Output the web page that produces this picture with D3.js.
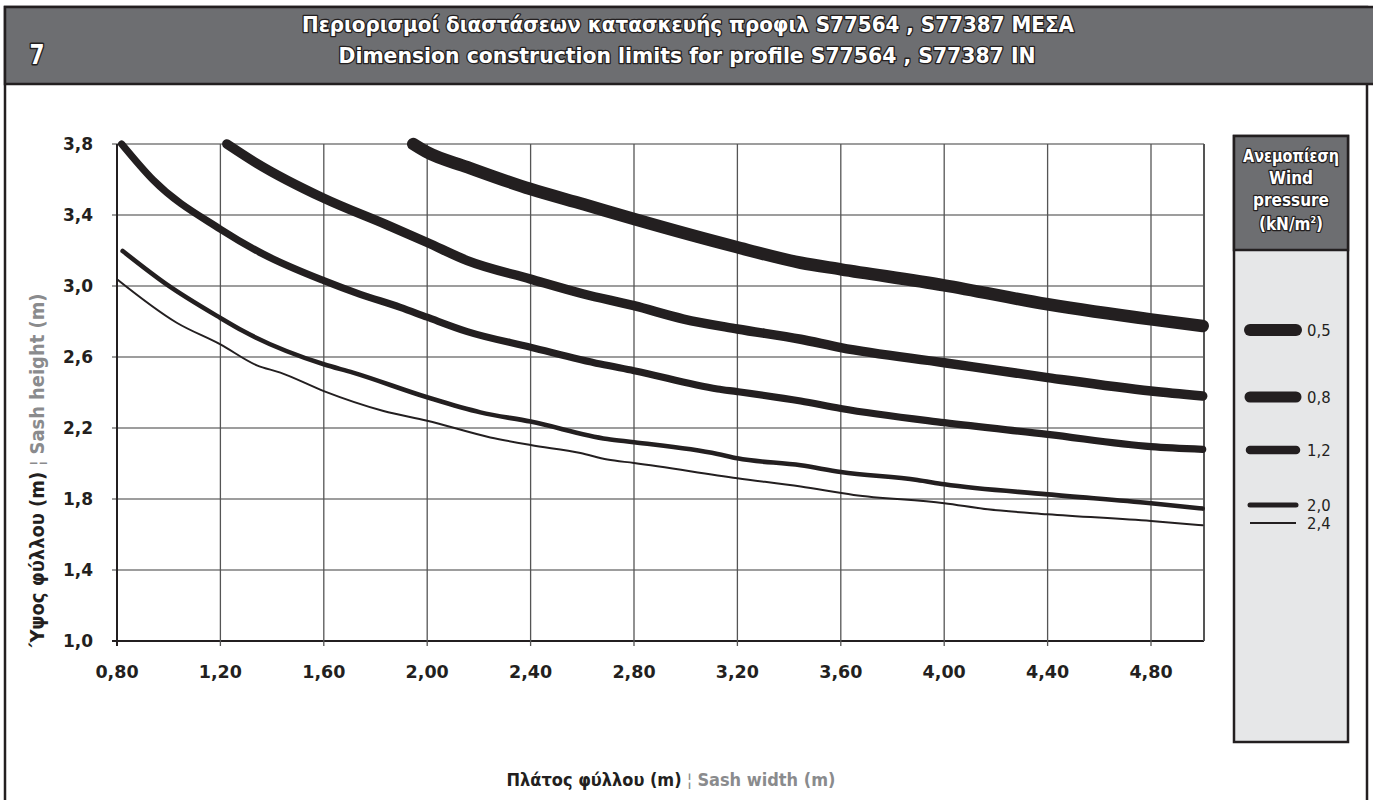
<!DOCTYPE html>
<html><head><meta charset="utf-8">
<script src="https://cdn.jsdelivr.net/npm/d3@7"></script>
<style>
html,body{margin:0;padding:0;background:#fff;}
svg{display:block;}
.cond{font-family:"Liberation Sans Narrow","DejaVu Sans Condensed","Roboto Condensed","DejaVu Sans",sans-serif;font-stretch:condensed;}
.tick{font-family:"DejaVu Sans",sans-serif;font-weight:bold;}
</style></head>
<body>
<svg id="c" width="1373" height="800"></svg>
<script>
// ---------------- DATA ----------------
const titleGr = "Περιορισμοί διαστάσεων κατασκευής προφιλ S77564 , S77387 ΜΕΣΑ";
const titleEn = "Dimension construction limits for profile S77564 , S77387 IN";
const chartNo = "7";
const xTicks = [0.8, 1.2, 1.6, 2.0, 2.4, 2.8, 3.2, 3.6, 4.0, 4.4, 4.8];
const yTicks = [1.0, 1.4, 1.8, 2.2, 2.6, 3.0, 3.4, 3.8];
const pressures = ["0,5", "0,8", "1,2", "2,0", "2,4"];
// [sash width (m), sash height (m)]
const p05 = [[1.946,3.80],[2.00,3.753],[2.155,3.67],[2.40,3.546],[2.605,3.46],[2.80,3.377],[3.20,3.218],[3.445,3.131],[3.60,3.094],[4.00,3.004],[4.40,2.897],[4.80,2.812],[5.00,2.775]];
const p08 = [[1.225,3.80],[1.341,3.691],[1.60,3.494],[1.844,3.344],[2.00,3.245],[2.155,3.143],[2.40,3.039],[2.605,2.955],[2.80,2.889],[2.992,2.814],[3.20,2.758],[3.445,2.70],[3.60,2.653],[4.00,2.568],[4.40,2.484],[4.80,2.408],[5.00,2.38]];
const p12 = [[0.818,3.80],[0.94,3.597],[1.20,3.32],[1.365,3.18],[1.60,3.03],[1.741,2.953],[1.896,2.88],[2.00,2.824],[2.155,2.743],[2.40,2.655],[2.67,2.56],[2.80,2.523],[3.123,2.42],[3.20,2.405],[3.445,2.352],[3.60,2.31],[4.00,2.23],[4.40,2.164],[4.80,2.095],[5.00,2.08]];
const p20 = [[0.822,3.197],[0.992,3.009],[1.20,2.82],[1.288,2.746],[1.60,2.559],[1.713,2.512],[2.00,2.373],[2.206,2.288],[2.40,2.236],[2.697,2.138],[2.80,2.12],[3.123,2.054],[3.20,2.029],[3.445,1.99],[3.60,1.952],[3.896,1.907],[4.00,1.883],[4.40,1.826],[4.80,1.776],[5.00,1.746]];
const p24 = [[0.80,3.038],[1.031,2.793],[1.20,2.671],[1.341,2.553],[1.432,2.512],[1.60,2.408],[1.831,2.296],[2.00,2.241],[2.244,2.147],[2.40,2.104],[2.593,2.059],[2.697,2.022],[2.80,2.003],[3.20,1.917],[3.445,1.87],[3.65,1.823],[4.00,1.776],[4.168,1.742],[4.40,1.714],[4.80,1.676],[5.00,1.652]];
const seriesData = [p05, p08, p12, p20, p24];

// ---------------- LAYOUT ----------------
const ink = "#231f20";
const widths = [12.5, 9.5, 7.2, 4.6, 2];
const legendY = [330, 397, 450, 505, 523];
const legendW = [12, 11, 8.5, 5, 2];

const svg = d3.select("#c");

// outer frame
svg.append("rect").attr("x",5).attr("y",7).attr("width",1362).attr("height",800)
  .attr("fill","#fff").attr("stroke",ink).attr("stroke-width",2.5);
// header band
svg.append("rect").attr("x",5).attr("y",7).attr("width",1375).attr("height",77)
  .attr("fill","#6d6e71").attr("stroke",ink).attr("stroke-width",2.5);

function outlined(sel, w){
  return sel.attr("fill","#fff").attr("stroke",ink).attr("stroke-width",w||2.6)
    .attr("paint-order","stroke").attr("stroke-linejoin","round");
}
outlined(svg.append("text").attr("class","cond").attr("x",37).attr("y",64)
  .attr("text-anchor","middle").attr("font-size",27).attr("font-weight","bold")
  .attr("textLength",15).attr("lengthAdjust","spacingAndGlyphs").text(chartNo), 3);
outlined(svg.append("text").attr("class","cond").attr("x",688).attr("y",32)
  .attr("text-anchor","middle").attr("font-size",22).attr("font-weight","bold")
  .attr("textLength",772).attr("lengthAdjust","spacingAndGlyphs").text(titleGr));
outlined(svg.append("text").attr("class","cond").attr("x",687).attr("y",63)
  .attr("text-anchor","middle").attr("font-size",22).attr("font-weight","bold")
  .attr("textLength",697).attr("lengthAdjust","spacingAndGlyphs").text(titleEn));

// scales
const x = d3.scaleLinear().domain([0.8, 0.8 + 1087/1034*4]).range([117, 1204]);
const y = d3.scaleLinear().domain([1.0, 3.8]).range([641, 144]);

const g = svg.append("g");
// horizontal grid
g.selectAll(".hg").data(yTicks).join("line")
  .attr("x1",112).attr("x2",1204).attr("y1",d=>y(d)).attr("y2",d=>y(d))
  .attr("stroke",d=>d===1.0?ink:"#7d7d7d").attr("stroke-width",d=>d===1.0?2:1.6);
// vertical grid
g.selectAll(".vg").data(xTicks).join("line")
  .attr("x1",d=>x(d)).attr("x2",d=>x(d)).attr("y1",144).attr("y2",646)
  .attr("stroke",d=>d===0.8?ink:"#555").attr("stroke-width",d=>d===0.8?2:1.3);
// right border
g.append("line").attr("x1",1204).attr("x2",1204).attr("y1",144).attr("y2",641)
  .attr("stroke","#555").attr("stroke-width",2);

// tick labels
const fmtX = d => d3.format(".2f")(d).replace(".", ",");
const fmtY = d => d3.format(".1f")(d).replace(".", ",");
g.selectAll(".xl").data(xTicks).join("text").attr("class","tick")
  .attr("x",d=>x(d)).attr("y",678).attr("text-anchor","middle")
  .attr("font-size",17.5).attr("fill",ink).text(fmtX);
g.selectAll(".yl").data(yTicks).join("text").attr("class","tick")
  .attr("x",93).attr("y",d=>y(d)+6).attr("text-anchor","end")
  .attr("font-size",17).attr("fill",ink).text(fmtY);

// curves
const line = d3.line().x(d=>x(d[0])).y(d=>y(d[1])).curve(d3.curveMonotoneX);
g.selectAll(".curve").data(seriesData).join("path")
  .attr("d",line).attr("fill","none").attr("stroke",ink)
  .attr("stroke-width",(d,i)=>widths[i]).attr("stroke-linecap","round").attr("stroke-linejoin","round");

// axis titles
const yt = svg.append("text").attr("class","cond").attr("font-weight","bold").attr("font-size",19)
  .attr("transform","translate(44,472) rotate(-90)").attr("text-anchor","middle")
  .attr("textLength",357).attr("lengthAdjust","spacingAndGlyphs");
yt.append("tspan").attr("fill",ink).text("΄Υψος φύλλου (m)");
yt.append("tspan").attr("fill","#8a8b8d").attr("font-weight","normal").text(" ¦ ");
yt.append("tspan").attr("fill","#8a8b8d").text("Sash height (m)");

const xt = svg.append("text").attr("class","cond").attr("font-weight","bold").attr("font-size",18)
  .attr("x",671).attr("y",786).attr("text-anchor","middle");
xt.append("tspan").attr("fill",ink).text("Πλάτος φύλλου (m)");
xt.append("tspan").attr("fill","#8a8b8d").attr("font-weight","normal").text(" ¦ ");
xt.append("tspan").attr("fill","#8a8b8d").text("Sash width (m)");

// legend
svg.append("rect").attr("x",1234).attr("y",136).attr("width",114).attr("height",606)
  .attr("fill","#e6e7e8").attr("stroke",ink).attr("stroke-width",2.5);
svg.append("rect").attr("x",1234).attr("y",136).attr("width",114).attr("height",114)
  .attr("fill","#6d6e71").attr("stroke",ink).attr("stroke-width",2.5);
const lh = ["Ανεμοπίεση","Wind","pressure"];
lh.forEach((t,i)=>{
  outlined(svg.append("text").attr("class","cond").attr("x",1291).attr("y",162+i*22)
    .attr("text-anchor","middle").attr("font-size",17).attr("font-weight","bold")
    .attr("textLength",i===0?96:null).attr("lengthAdjust","spacingAndGlyphs").text(t), 2.4);
});
const unit = outlined(svg.append("text").attr("class","cond").attr("x",1291).attr("y",230)
  .attr("text-anchor","middle").attr("font-size",17).attr("font-weight","bold"), 2.4);
unit.append("tspan").text("(kN/m");
unit.append("tspan").attr("font-size",9).attr("dy",-7).text("2");
unit.append("tspan").attr("dy",7).text(")");

const lg = svg.append("g");
lg.selectAll("line").data(pressures).join("line")
  .attr("x1",1250).attr("x2",1296).attr("y1",(d,i)=>legendY[i]).attr("y2",(d,i)=>legendY[i])
  .attr("stroke",ink).attr("stroke-width",(d,i)=>legendW[i])
  .attr("stroke-linecap",(d,i)=>i<4?"round":"butt");
lg.selectAll("text").data(pressures).join("text").attr("class","cond")
  .attr("x",1307).attr("y",(d,i)=>legendY[i]+6).attr("font-size",16.5).attr("fill",ink).text(d=>d);
</script>
</body></html>
